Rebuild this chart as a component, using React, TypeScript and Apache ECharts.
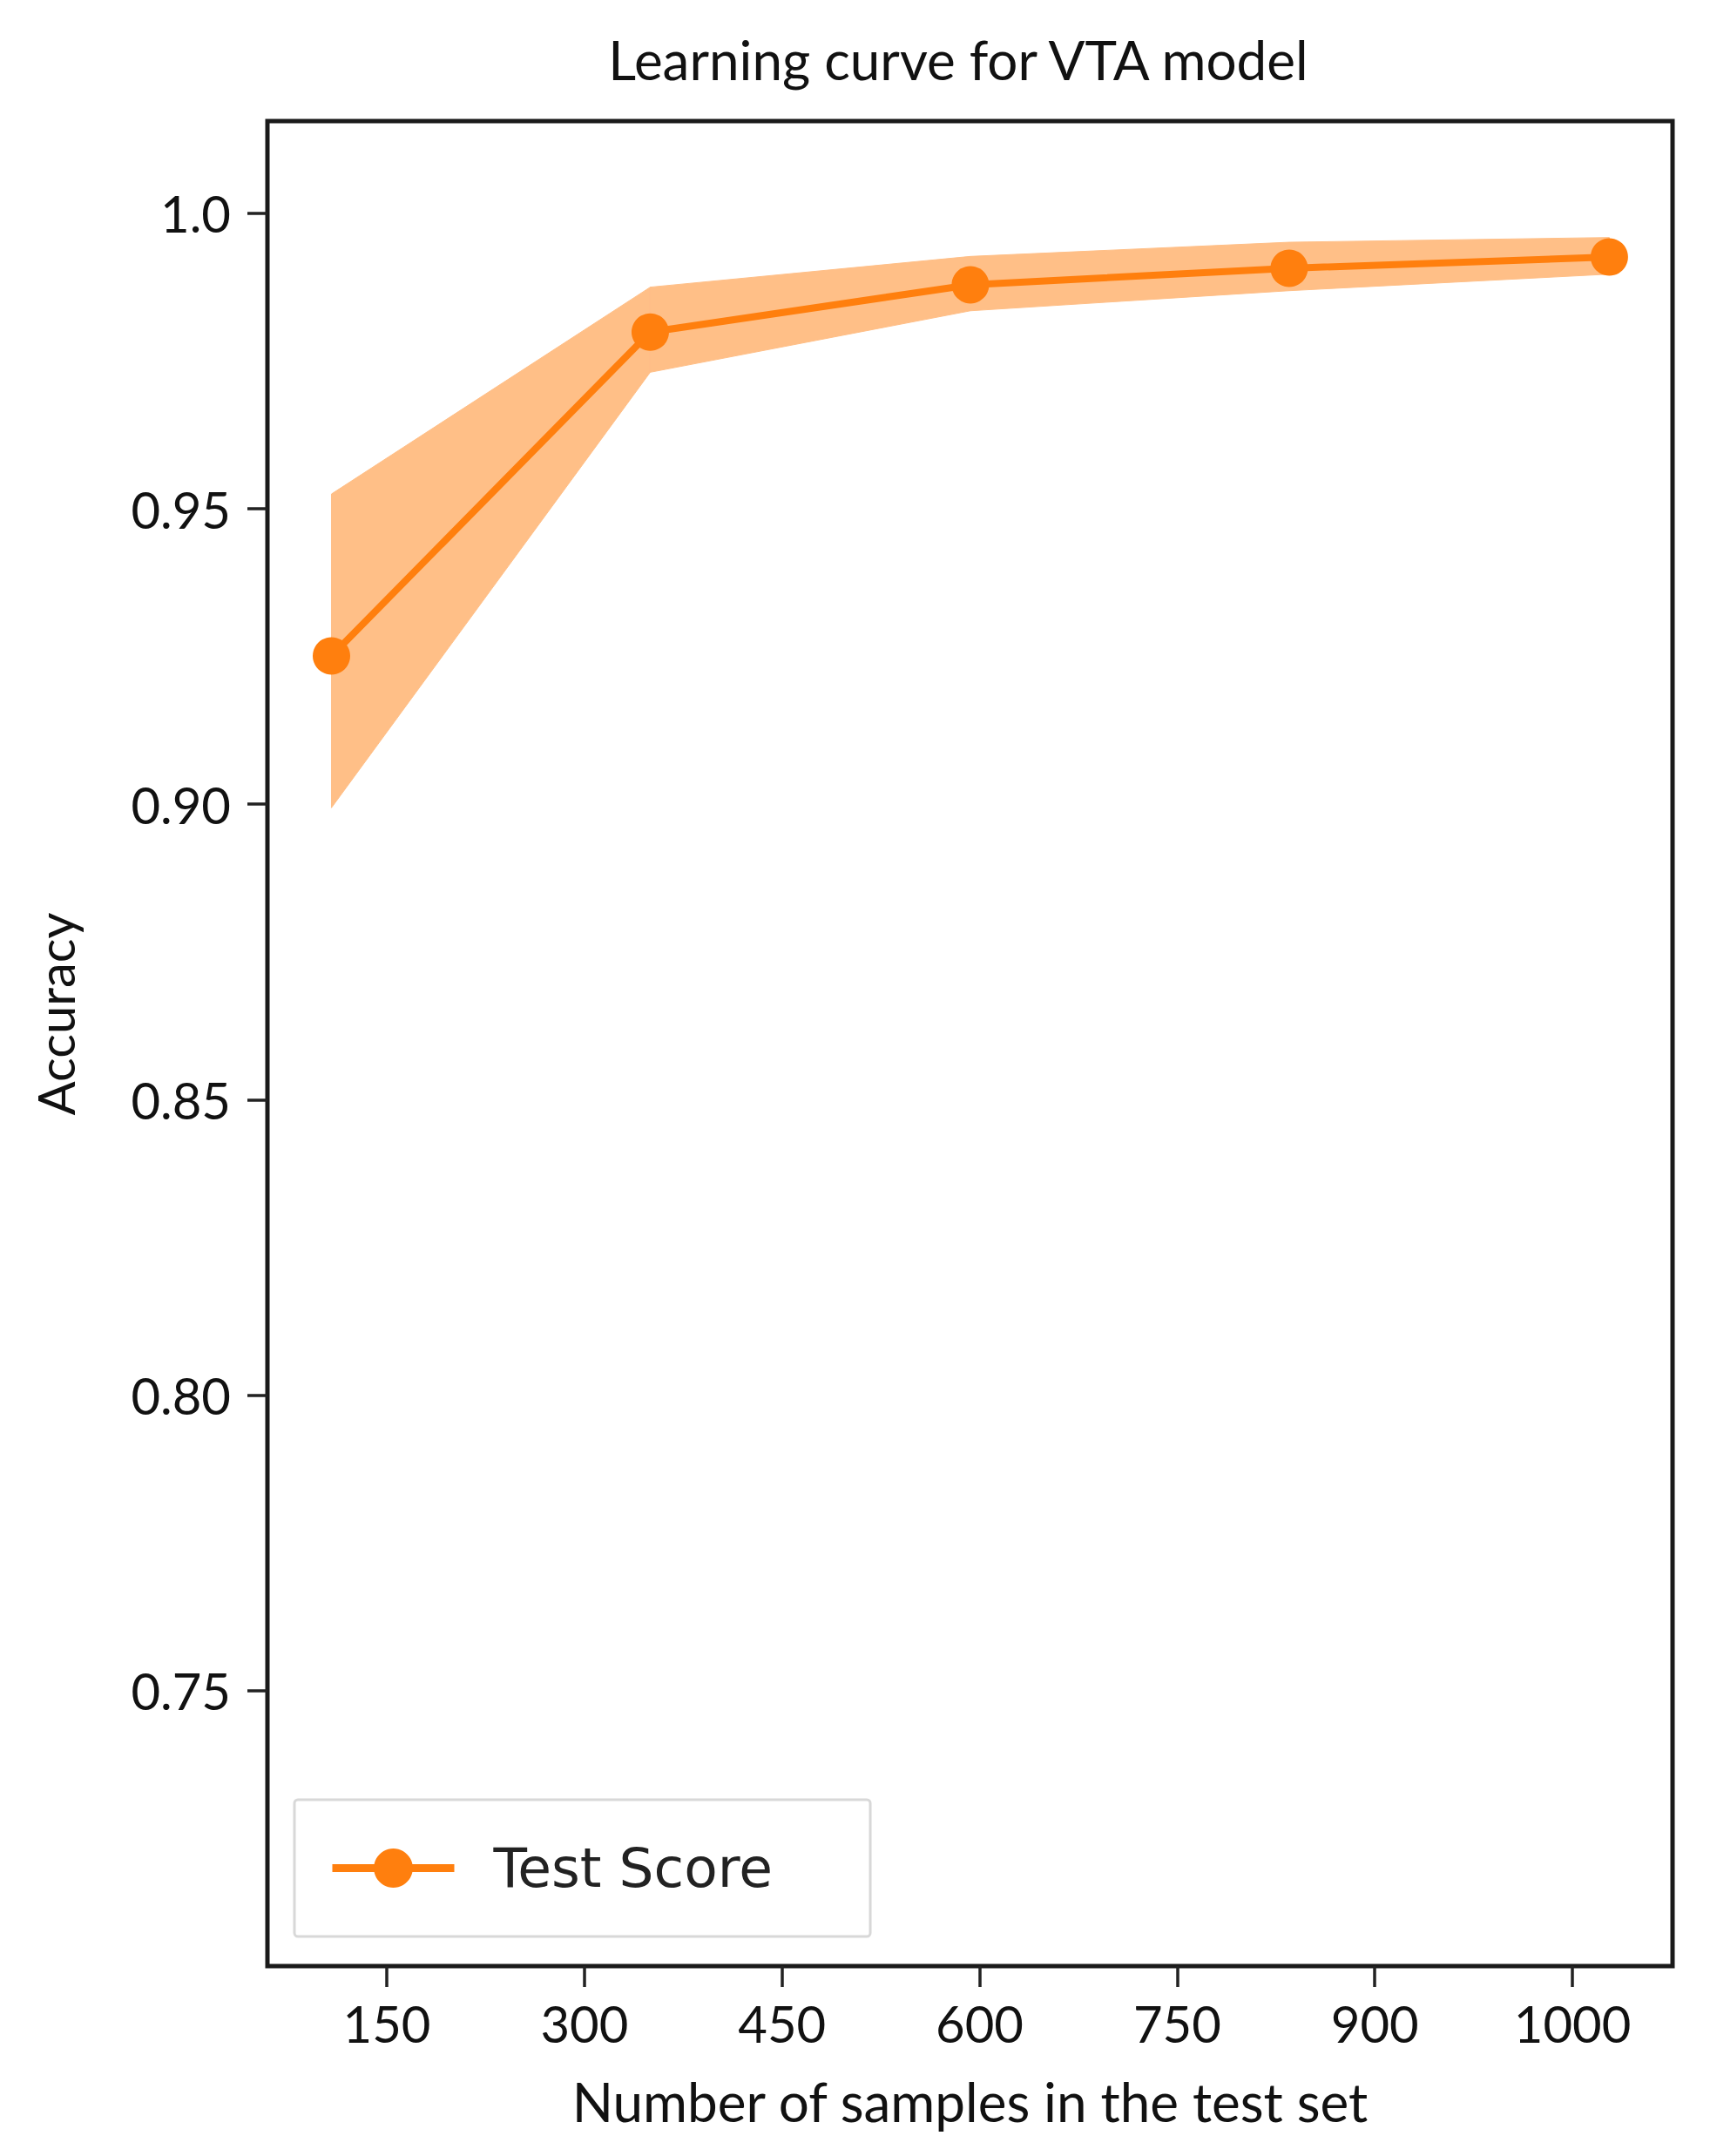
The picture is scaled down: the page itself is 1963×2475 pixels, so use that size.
import React, { useEffect, useRef } from "react";
import * as echarts from "echarts";

// Data
const trainSizes = [108, 350, 593, 835, 1078];
const testMean = [0.9251, 0.9799, 0.9879, 0.9907, 0.9926];
const testUpper = [0.9525, 0.9875, 0.9927, 0.9951, 0.9959];
const testLower = [0.8994, 0.9731, 0.9835, 0.9869, 0.9897];

const xTickValues = [150, 300, 450, 600, 750, 900, 1050];
const xTickLabels = ["150", "300", "450", "600", "750", "900", "1000"];
const yTickValues = [0.75, 0.8, 0.85, 0.9, 0.95, 1.0];
const yTickLabels = ["0.75", "0.80", "0.85", "0.90", "0.95", "1.0"];

const titleText = "Learning curve for VTA model";
const xName = "Number of samples in the test set";
const yName = "Accuracy";
const seriesName = "Test Score";

const ORANGE = "#ff7f0e";
const BAND = "#ffbf87";
const FONT = "Lato";

export default function App() {
  const ref = useRef<HTMLDivElement>(null);

  useEffect(() => {
    if (!ref.current) return;
    const chart = echarts.init(ref.current, null, { renderer: "svg" });

    const bandData = trainSizes.map((x, i) => [x, testLower[i], testUpper[i]]);
    const meanData = trainSizes.map((x, i) => [x, testMean[i]]);
    const n = trainSizes.length;

    const findLabel = (vals: number[], labels: string[], v: number) => {
      for (let i = 0; i < vals.length; i++) {
        if (Math.abs(vals[i] - v) < 1e-6) return labels[i];
      }
      return "";
    };

    chart.setOption({
      animation: false,
      backgroundColor: "#ffffff",
      title: {
        text: titleText,
        left: 1095,
        top: 32,
        textAlign: "center",
        textStyle: { fontFamily: FONT, fontSize: 62, fontWeight: "normal", color: "#111" },
      },
      graphic: [
        {
          type: "text",
          x: 63,
          y: 1164,
          rotation: Math.PI / 2,
          style: {
            text: yName,
            fontFamily: FONT,
            fontSize: 58,
            fill: "#111",
            textAlign: "center",
            textVerticalAlign: "middle",
          },
        },
      ],
      legend: {
        data: [seriesName],
        left: 338,
        top: 2066,
        orient: "vertical",
        itemWidth: 140,
        itemHeight: 56,
        padding: [47, 112, 47, 39],
        backgroundColor: "#ffffff",
        borderColor: "#d8d8d8",
        borderWidth: 3,
        borderRadius: 4,
        lineStyle: { width: 9, color: ORANGE },
        textStyle: { fontFamily: "DejaVu Sans", fontSize: 63, color: "#222", padding: [0, 0, 0, 40] },
      },
      grid: {
        left: 307,
        top: 139,
        width: 1613,
        height: 2118,
        show: true,
        borderColor: "#1a1a1a",
        borderWidth: 5,
        backgroundColor: "#ffffff",
        containLabel: false,
      },
      xAxis: {
        type: "value",
        min: 59.4,
        max: 1126,
        name: xName,
        nameLocation: "middle",
        nameGap: 124,
        nameTextStyle: { fontFamily: FONT, fontSize: 62, color: "#111" },
        axisLine: { show: false },
        splitLine: { show: false },
        axisTick: {
          show: true,
          length: 24,
          lineStyle: { color: "#222", width: 3.5 },
          customValues: xTickValues,
        },
        axisLabel: {
          margin: 36,
          fontFamily: FONT,
          fontSize: 58,
          color: "#111",
          customValues: xTickValues,
          formatter: (v: number) => findLabel(xTickValues, xTickLabels, v),
        },
      },
      yAxis: {
        type: "value",
        min: 0.7034,
        max: 1.0156,
        axisLine: { show: false },
        splitLine: { show: false },
        axisTick: {
          show: true,
          length: 23,
          lineStyle: { color: "#222", width: 3.5 },
          customValues: yTickValues,
        },
        axisLabel: {
          margin: 42,
          fontFamily: FONT,
          fontSize: 58,
          color: "#111",
          customValues: yTickValues,
          formatter: (v: number) => findLabel(yTickValues, yTickLabels, v),
        },
      },
      series: [
        {
          name: "band",
          type: "custom",
          data: bandData,
          encode: { x: 0, y: [1, 2] },
          silent: true,
          z: 1,
          renderItem: (params: any, api: any) => {
            const i = params.dataIndex;
            if (i >= n - 1) return null;
            const pts = [
              api.coord([trainSizes[i], testUpper[i]]),
              api.coord([trainSizes[i + 1], testUpper[i + 1]]),
              api.coord([trainSizes[i + 1], testLower[i + 1]]),
              api.coord([trainSizes[i], testLower[i]]),
            ];
            return {
              type: "polygon",
              shape: { points: pts },
              style: { fill: BAND, stroke: BAND, lineWidth: 1 },
            };
          },
        },
        {
          name: seriesName,
          type: "line",
          data: meanData,
          symbol: "circle",
          symbolSize: 43,
          itemStyle: { color: ORANGE },
          lineStyle: { color: ORANGE, width: 8 },
          z: 3,
        },
      ],
    });

    return () => chart.dispose();
  }, []);

  return (
    <div
      ref={ref}
      style={{ position: "absolute", left: 0, top: 0, width: 1963, height: 2475 }}
    />
  );
}
